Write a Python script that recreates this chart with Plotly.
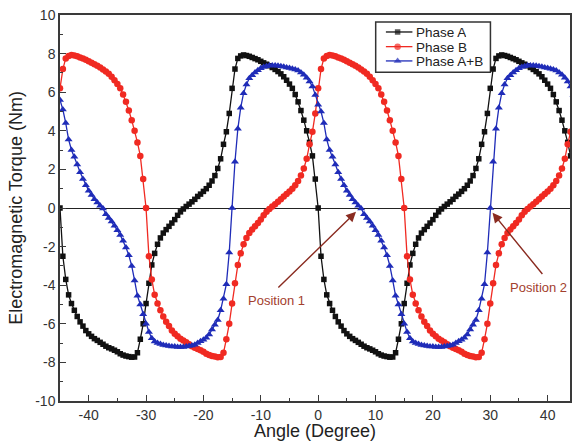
import numpy as np
import plotly.graph_objects as go

# Angle grid (degrees), 0.5 degree steps
angle = np.arange(-45.0, 45.0001, 0.5)

phase_a = [
    0, -2.5, -3.7, -4.5, -4.95, -5.3, -5.62, -5.9, -6.12, -6.35,
    -6.52, -6.65, -6.77, -6.86, -6.96, -7.06, -7.16, -7.24, -7.3, -7.37,
    -7.45, -7.55, -7.62, -7.67, -7.7, -7.73, -7.72, -7.5, -6.8, -6.0,
    -4.95, -3.9, -2.95, -2.35, -1.88, -1.55, -1.3, -1.12, -0.95, -0.78,
    -0.6, -0.38, -0.2, -0.05, 0.08, 0.2, 0.32, 0.45, 0.6, 0.72,
    0.86, 1.0, 1.18, 1.4, 1.68, 2.05, 2.55, 3.3, 3.95, 4.9,
    6.2, 7.2, 7.75, 7.88, 7.93, 7.9, 7.86, 7.8, 7.74, 7.68,
    7.6, 7.52, 7.45, 7.37, 7.28, 7.18, 7.07, 6.95, 6.8, 6.62,
    6.42, 6.2, 5.88, 5.5, 5.05, 4.55, 4.0, 3.4, 2.7, 1.5,
    0, -2.5, -3.7, -4.5, -4.95, -5.3, -5.62, -5.9, -6.12, -6.35,
    -6.52, -6.65, -6.77, -6.86, -6.96, -7.06, -7.16, -7.24, -7.3, -7.37,
    -7.45, -7.55, -7.62, -7.67, -7.7, -7.73, -7.72, -7.5, -6.8, -6.0,
    -4.95, -3.9, -2.95, -2.35, -1.88, -1.55, -1.3, -1.12, -0.95, -0.78,
    -0.6, -0.38, -0.2, -0.05, 0.08, 0.2, 0.32, 0.45, 0.6, 0.72,
    0.86, 1.0, 1.18, 1.4, 1.68, 2.05, 2.55, 3.3, 3.95, 4.9,
    6.2, 7.2, 7.75, 7.88, 7.93, 7.9, 7.86, 7.8, 7.74, 7.68,
    7.6, 7.52, 7.45, 7.37, 7.28, 7.18, 7.07, 6.95, 6.8, 6.62,
    6.42, 6.2, 5.88, 5.5, 5.05, 4.55, 4.0, 3.4, 2.7, 1.5,
    0,
]

phase_b = [
    6.2, 7.2, 7.75, 7.88, 7.93, 7.9, 7.86, 7.8, 7.74, 7.68,
    7.6, 7.52, 7.45, 7.37, 7.28, 7.18, 7.07, 6.95, 6.8, 6.62,
    6.42, 6.2, 5.88, 5.5, 5.05, 4.55, 4.0, 3.4, 2.7, 1.5,
    0, -2.5, -3.7, -4.5, -4.95, -5.3, -5.62, -5.9, -6.12, -6.35,
    -6.52, -6.65, -6.77, -6.86, -6.96, -7.06, -7.16, -7.24, -7.3, -7.37,
    -7.45, -7.55, -7.62, -7.67, -7.7, -7.73, -7.72, -7.5, -6.8, -6.0,
    -4.95, -3.9, -2.95, -2.35, -1.88, -1.55, -1.3, -1.12, -0.95, -0.78,
    -0.6, -0.38, -0.2, -0.05, 0.08, 0.2, 0.32, 0.45, 0.6, 0.72,
    0.86, 1.0, 1.18, 1.4, 1.68, 2.05, 2.55, 3.3, 3.95, 4.9,
    6.2, 7.2, 7.75, 7.88, 7.93, 7.9, 7.86, 7.8, 7.74, 7.68,
    7.6, 7.52, 7.45, 7.37, 7.28, 7.18, 7.07, 6.95, 6.8, 6.62,
    6.42, 6.2, 5.88, 5.5, 5.05, 4.55, 4.0, 3.4, 2.7, 1.5,
    0, -2.5, -3.7, -4.5, -4.95, -5.3, -5.62, -5.9, -6.12, -6.35,
    -6.52, -6.65, -6.77, -6.86, -6.96, -7.06, -7.16, -7.24, -7.3, -7.37,
    -7.45, -7.55, -7.62, -7.67, -7.7, -7.73, -7.72, -7.5, -6.8, -6.0,
    -4.95, -3.9, -2.95, -2.35, -1.88, -1.55, -1.3, -1.12, -0.95, -0.78,
    -0.6, -0.38, -0.2, -0.05, 0.08, 0.2, 0.32, 0.45, 0.6, 0.72,
    0.86, 1.0, 1.18, 1.4, 1.68, 2.05, 2.55, 3.3, 3.95, 4.9,
    6.2,
]

phase_ab = [
    5.6, 5.1, 4.4, 3.55, 3.0, 2.66, 2.25, 1.85, 1.5, 1.18,
    0.9, 0.67, 0.45, 0.28, 0.12, -0.02, -0.32, -0.52, -0.7, -0.92,
    -1.15, -1.4, -1.7, -2.05, -2.45, -3.0, -3.75, -4.55, -5.0, -5.5,
    -6.0, -6.42, -6.75, -6.92, -7.0, -7.05, -7.1, -7.12, -7.15, -7.17,
    -7.18, -7.2, -7.2, -7.2, -7.18, -7.15, -7.12, -7.08, -7.0, -6.9,
    -6.82, -6.72, -6.55, -6.3, -6.05, -5.8, -5.3, -4.7, -3.95, -2.3,
    0.0, 2.4, 4.1, 5.2, 5.95, 6.4, 6.72, 6.88, 7.02, 7.14,
    7.24, 7.3, 7.35, 7.38, 7.38, 7.38, 7.37, 7.35, 7.32, 7.28,
    7.26, 7.22, 7.18, 7.12, 7.02, 6.9, 6.75, 6.55, 6.3, 5.85,
    5.35, 5.0, 4.4, 3.55, 3.0, 2.66, 2.25, 1.85, 1.5, 1.18,
    0.9, 0.67, 0.45, 0.28, 0.12, -0.02, -0.32, -0.52, -0.7, -0.92,
    -1.15, -1.4, -1.7, -2.05, -2.45, -3.0, -3.75, -4.55, -5.0, -5.5,
    -6.0, -6.42, -6.75, -6.92, -7.0, -7.05, -7.1, -7.12, -7.15, -7.17,
    -7.18, -7.2, -7.2, -7.2, -7.18, -7.15, -7.12, -7.08, -7.0, -6.9,
    -6.82, -6.72, -6.55, -6.3, -6.05, -5.8, -5.3, -4.7, -3.95, -2.3,
    0.0, 2.4, 4.1, 5.2, 5.95, 6.4, 6.72, 6.88, 7.02, 7.14,
    7.24, 7.3, 7.35, 7.38, 7.38, 7.38, 7.37, 7.35, 7.32, 7.28,
    7.26, 7.22, 7.18, 7.12, 7.02, 6.9, 6.75, 6.55, 6.3, 5.85,
    5.35,
]

x_ticks = [-40, -30, -20, -10, 0, 10, 20, 30, 40]
x_ticktext = ["-40", "-30", "-20", "-10", "0", "10", "20", "30", "40"]
y_ticks = [-10, -8, -6, -4, -2, 0, 2, 4, 6, 8, 10]
y_ticktext = ["-10", "-8", "-6", "-4", "-2", "0", "2", "4", "6", "8", "10"]

series_names = ["Phase A", "Phase B", "Phase A+B"]
series_colors = ["#111111", "#f02a22", "#1f2cb8"]
series_symbols = ["square", "circle", "triangle-up"]
series_sizes = [5.5, 6.5, 7]

FONT = "Liberation Sans, Arial, sans-serif"
AX = "#3a3a3a"

fig = go.Figure()
for name, vals, col, sym, sz in zip(series_names, [phase_a, phase_b, phase_ab],
                                    series_colors, series_symbols, series_sizes):
    fig.add_trace(go.Scatter(
        x=angle, y=vals, name=name, mode="lines+markers", showlegend=False,
        line=dict(color=col, width=1.3),
        marker=dict(symbol=sym, size=sz, color=col, line=dict(width=0)),
    ))

# ---- legend box drawn on an overlay (paper-like) axis ----
lg_x0, lg_x1, lg_y0, lg_y1 = 0.619, 0.844, 0.852, 0.982
lg_rows = [0.956, 0.918, 0.881]
fig.add_shape(type="rect", xref="paper", yref="paper", x0=lg_x0, x1=lg_x1, y0=lg_y0, y1=lg_y1,
              line=dict(color="#333333", width=1.5), fillcolor="white", layer="below")
for name, col, sym, sz, yy in zip(series_names, series_colors, series_symbols, series_sizes, lg_rows):
    fig.add_trace(go.Scatter(
        x=[0.639, 0.662, 0.691], y=[yy, yy, yy], xaxis="x2", yaxis="y2",
        mode="lines+markers", showlegend=False, hoverinfo="skip",
        line=dict(color=col, width=1.3),
        marker=dict(symbol=sym, size=[0, sz, 0], color=col, line=dict(width=0)),
    ))
    fig.add_annotation(xref="paper", yref="paper", x=0.696, y=yy, xanchor="left", yanchor="middle",
                       text=name, showarrow=False, height=14, borderpad=0,
                       font=dict(family=FONT, size=13.5, color="#222222"))

arrow_col = "#8a2b20"
text_col = "#a3402e"
# Position 1
fig.add_annotation(x=6.6, y=-0.2, ax=-7.2, ay=-4.2, axref="x", ayref="y",
                   xref="x", yref="y", text="", showarrow=True,
                   arrowhead=2, arrowsize=1.4, arrowwidth=1.4, arrowcolor=arrow_col)
fig.add_annotation(x=-7.2, y=-4.8, text="Position 1", showarrow=False,
                   font=dict(family=FONT, size=13, color=text_col))
# Position 2
fig.add_annotation(x=30.4, y=-0.25, ax=39.3, ay=-3.5, axref="x", ayref="y",
                   xref="x", yref="y", text="", showarrow=True,
                   arrowhead=2, arrowsize=1.4, arrowwidth=1.4, arrowcolor=arrow_col)
fig.add_annotation(x=43.8, y=-4.1, xanchor="right", text="Position 2", showarrow=False,
                   font=dict(family=FONT, size=13, color=text_col))

fig.update_layout(
    width=573, height=441,
    margin=dict(l=60, r=1, t=15, b=40),
    paper_bgcolor="white", plot_bgcolor="white",
    font=dict(family=FONT, color="#222222"),
    showlegend=False,
    xaxis=dict(
        range=[-45, 43.9], tickmode="array", tickvals=x_ticks, ticktext=x_ticktext,
        ticks="inside", ticklen=6, tickwidth=1.3, tickcolor=AX,
        minor=dict(dtick=5, tick0=0, ticks="inside", ticklen=3, tickcolor=AX),
        showline=True, linecolor=AX, linewidth=1.5, mirror=True,
        showgrid=False, zeroline=False,
        tickfont=dict(family=FONT, size=14, color="#333333"),
        title=dict(text="Angle (Degree)", font=dict(family=FONT, size=18, color="#222222"), standoff=4),
    ),
    yaxis=dict(
        range=[-10, 10], tickmode="array", tickvals=y_ticks, ticktext=y_ticktext,
        ticks="inside", ticklen=6, tickwidth=1.3, tickcolor=AX,
        minor=dict(dtick=1, tick0=0, ticks="inside", ticklen=3, tickcolor=AX),
        showline=True, linecolor=AX, linewidth=1.5, mirror=True,
        showgrid=False, zeroline=True, zerolinecolor="#222222", zerolinewidth=1,
        tickfont=dict(family=FONT, size=14, color="#333333"),
        title=dict(text="Electromagnetic Torque (Nm)", font=dict(family=FONT, size=18, color="#222222"), standoff=8),
    ),
    xaxis2=dict(range=[0, 1], overlaying="x", visible=False, fixedrange=True),
    yaxis2=dict(range=[0, 1], overlaying="y", visible=False, fixedrange=True),
)

fig.write_html("out.html", config={"displayModeBar": False},
               post_script="document.body.style.margin='0';document.body.style.overflow='hidden';")
